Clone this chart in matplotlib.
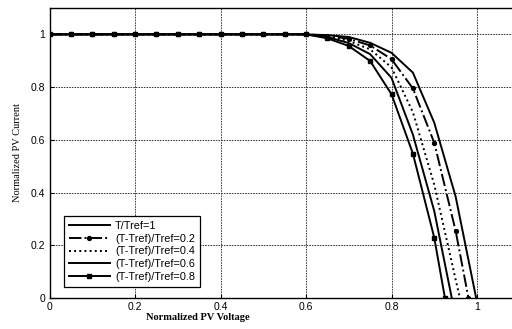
import numpy as np
import matplotlib.pyplot as plt

# flat part shared by every curve (normalized current = 1)
v_flat = [0.0, 0.05, 0.1, 0.15, 0.2, 0.25, 0.3, 0.35, 0.4, 0.45, 0.5, 0.55, 0.6]
i_flat = [1.0] * len(v_flat)

# knee / drop part
v_t1 = [0.65, 0.7, 0.75, 0.8, 0.85, 0.9, 0.95, 0.998]
i_t1 = [0.997, 0.99, 0.968, 0.93, 0.855, 0.665, 0.385, 0.0]

v_t2 = [0.65, 0.7, 0.75, 0.8, 0.85, 0.9, 0.95, 0.98]
i_t2 = [0.995, 0.983, 0.958, 0.906, 0.795, 0.589, 0.255, 0.0]

v_t4 = [0.65, 0.7, 0.75, 0.8, 0.85, 0.9, 0.95, 0.96]
i_t4 = [0.993, 0.975, 0.943, 0.875, 0.705, 0.43, 0.07, 0.0]

v_t6 = [0.65, 0.7, 0.75, 0.8, 0.85, 0.9, 0.941]
i_t6 = [0.99, 0.967, 0.925, 0.835, 0.62, 0.33, 0.0]

v_t8 = [0.65, 0.7, 0.75, 0.8, 0.85, 0.9, 0.925]
i_t8 = [0.985, 0.956, 0.899, 0.773, 0.548, 0.229, 0.0]

labels = ['T/Tref=1', '(T-Tref)/Tref=0.2', '(T-Tref)/Tref=0.4',
          '(T-Tref)/Tref=0.6', '(T-Tref)/Tref=0.8']

fig = plt.figure(figsize=(5.12, 3.29), dpi=100)
ax = fig.add_axes([49.5 / 512, 31 / 329, 513 / 512, 290 / 329])

lw = 1.4
ax.plot(v_flat + v_t1, i_flat + i_t1, color='black', lw=lw, label=labels[0])
ax.plot(v_flat + v_t2, i_flat + i_t2, color='black', lw=lw, ls='-.',
        marker='o', markersize=2.8, label=labels[1])
ax.plot(v_flat + v_t4, i_flat + i_t4, color='black', lw=lw, ls=':', label=labels[2])
ax.plot(v_flat + v_t6, i_flat + i_t6, color='black', lw=lw, label=labels[3])
ax.plot(v_flat + v_t8, i_flat + i_t8, color='black', lw=lw,
        marker='s', markersize=2.6, label=labels[4])

ax.set_xlim(0, 1.2)
ax.set_ylim(0, 1.1)
ax.set_xticks([0, 0.2, 0.4, 0.6, 0.8, 1.0, 1.2])
ax.set_xticklabels(['0', '0.2', '0.4', '0.6', '0.8', '1', ''])
ax.set_yticks([0, 0.2, 0.4, 0.6, 0.8, 1.0])
ax.set_yticklabels(['0', '0.2', '0.4', '0.6', '0.8', '1'])
ax.tick_params(direction='in', labelsize=7.5, length=3, pad=3)
for lab in ax.get_xticklabels() + ax.get_yticklabels():
    lab.set_family('Liberation Sans')

ax.grid(True, color='#222222', ls=(0, (2, 1.2)), lw=0.6)
for s in ax.spines.values():
    s.set_linewidth(1.0)

ax.set_xlabel('Normalized PV Voltage', family='Liberation Serif',
              fontsize=7.5, fontweight='bold', labelpad=2)
ax.set_ylabel('Normalized PV Current', family='Liberation Serif',
              fontsize=7.5, labelpad=6)
ax.xaxis.set_label_coords(0.29, -0.05)

leg = ax.legend(loc='lower left', bbox_to_anchor=(0.017, 0.02),
                prop={'family': 'Liberation Sans', 'size': 7.8},
                handlelength=3.8, handletextpad=0.5, labelspacing=0.25,
                borderpad=0.45, fancybox=False, framealpha=1,
                edgecolor='black')
leg.get_frame().set_linewidth(0.9)

fig.savefig('out.png', dpi=100)
